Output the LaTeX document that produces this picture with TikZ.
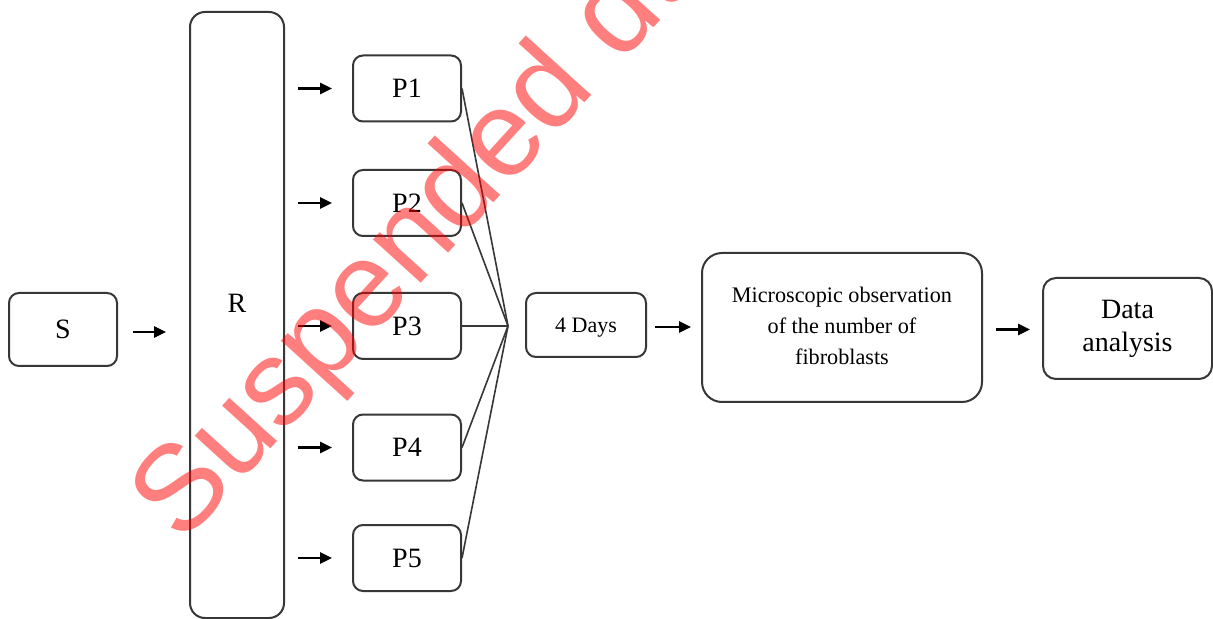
\documentclass[tikz,border=0pt]{standalone}
\usepackage{fontspec}
\setmainfont{Liberation Serif}
\newfontfamily\wmfont{Liberation Sans}
\usetikzlibrary{arrows.meta,calc}
\definecolor{boxline}{RGB}{55,55,55}
\tikzset{
  box/.style={draw=boxline, line width=1pt, rounded corners=5pt, inner sep=0pt, align=center},
  arr/.style={draw=black, line width=1.3pt, -{Triangle[length=6pt,width=5.5pt]}},
  fan/.style={draw=boxline, line width=0.8pt},
  plabel/.style={font=\fontsize{14}{16}\selectfont},
  wmark/.style={text=red, opacity=0.5, font=\wmfont\fontsize{61}{61}\selectfont, inner sep=0pt, anchor=base west, rotate=47.7},
}
\begin{document}
\begin{tikzpicture}[x=0.5pt,y=-0.5pt]
\useasboundingbox (0,0) rectangle (1213,619);
\fill[white] (0,0) rectangle (1213,619);
% boxes
\node[box, plabel, minimum width=54pt, minimum height=36.5pt] (S) at (63,329.5) {S};
\node[box, rounded corners=7.5pt, minimum width=47pt, minimum height=303pt] (R) at (237,315) {};
\node[plabel, inner sep=0pt] (Rlab) at (237,303) {R};
\node[box, plabel, minimum width=54pt, minimum height=33pt] (P1) at (407,88.5) {P1};
\node[box, plabel, minimum width=54pt, minimum height=33pt] (P2) at (407,203) {P2};
\node[box, plabel, minimum width=54pt, minimum height=33pt] (P3) at (407,326) {P3};
\node[box, plabel, minimum width=54pt, minimum height=33pt] (P4) at (407,447.5) {P4};
\node[box, plabel, minimum width=54pt, minimum height=33pt] (P5) at (407,558) {P5};
\coordinate (J) at (508,326);
\node[box, font=\fontsize{11}{13}\selectfont, minimum width=60pt, minimum height=32pt, text depth=0pt] (D) at (586,325) {4 Days};
\node[box, rounded corners=10pt, font=\fontsize{11.1}{15.5}\selectfont, minimum width=140pt, minimum height=74.5pt] (M) at (842,327.5) {\raisebox{-3pt}{\begin{tabular}{@{}c@{}}Microscopic observation\\of the number of\\fibroblasts\end{tabular}}};
\node[box, rounded corners=6.5pt, font=\fontsize{14}{16.5}\selectfont, minimum width=84.5pt, minimum height=50.5pt] (A) at (1127.5,328.5) {\raisebox{-1.5pt}{\begin{tabular}{@{}c@{}}Data\\analysis\end{tabular}}};
% arrows
\draw[arr, shorten <=7.5pt, shorten >=11.5pt] ([yshift=-1.25pt]S.east) -- ([yshift=-1.25pt]S.east -| R.west);
\foreach \p in {P1,P2,P3,P4,P5}{
  \draw[arr, shorten <=6.5pt, shorten >=10pt] (\p.west -| R.east) -- (\p.west);
}
\draw[arr, shorten <=4pt, shorten >=5pt] ([yshift=-1pt]D.east) -- ([yshift=-1pt]D.east -| M.west);
\draw[arr, shorten <=6.5pt, shorten >=6pt] ([yshift=-1pt]M.east) -- ([yshift=-1pt]M.east -| A.west);
% fan
\foreach \p in {P1,P2,P3,P4,P5}{
  \draw[fan] (\p.east) -- (J);
}
% watermark
\node[wmark] (WM) at (182,546) {Suspended du};
\end{tikzpicture}
\end{document}
